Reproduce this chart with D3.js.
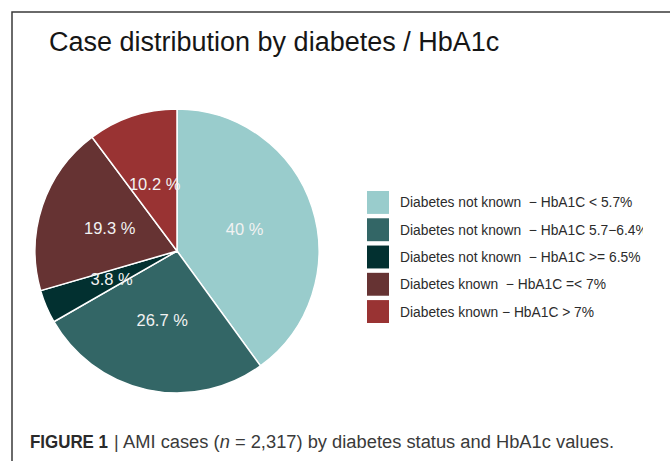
<!DOCTYPE html>
<html>
<head>
<meta charset="utf-8">
<script src="https://cdn.jsdelivr.net/npm/d3@7/dist/d3.min.js"></script>
<style>
  html, body { margin: 0; padding: 0; background: #fff; }
  svg { display: block; }
  text { white-space: pre; }
</style>
</head>
<body>
<svg id="chart" width="670" height="461"></svg>
<script>
// Share of AMI cases per diabetes / HbA1c group (percent)
const categories = [
  "Diabetes not known  \u2212 HbA1C < 5.7%",
  "Diabetes not known  \u2212 HbA1C 5.7\u22126.4%",
  "Diabetes not known  \u2212 HbA1C >= 6.5%",
  "Diabetes known  \u2212 HbA1C =< 7%",
  "Diabetes known \u2212 HbA1C > 7%"
];
const shares = [40, 26.7, 3.8, 19.3, 10.2];
const sliceLabels = ["40 %", "26.7 %", "3.8 %", "19.3 %", "10.2 %"];
const palette = ["#99cccc", "#336666", "#023030", "#663333", "#993333"];

const title = "Case distribution by diabetes / HbA1c";
const captionBold = "FIGURE 1";
const captionRest = ["AMI cases (", "n", " = 2,317) by diabetes status and HbA1c values."];

const svg = d3.select("#chart");
const W = 670, H = 461;
const FONT = "'Liberation Sans', Arial, Helvetica, sans-serif";

// panel frame (top and left edges)
svg.append("path")
  .attr("d", `M12,${H} V12 H${W}`)
  .attr("fill", "none")
  .attr("stroke", "#3a3a3a")
  .attr("stroke-width", 1.5);

// title
svg.append("text")
  .attr("x", 49).attr("y", 51)
  .attr("font-family", FONT)
  .attr("font-size", 27)
  .attr("fill", "#161616")
  .text(title);

// pie
const cx = 177, cy = 251, R = 142;
const color = d3.scaleOrdinal().domain(categories).range(palette);
const pie = d3.pie().sort(null).value(d => d.v);
const rows = categories.map((c, i) => ({ c, v: shares[i], lab: sliceLabels[i] }));
const arcs = pie(rows);
const arc = d3.arc().innerRadius(0).outerRadius(R);
const labelArc = d3.arc().innerRadius(R * 0.5).outerRadius(R * 0.5);

const g = svg.append("g").attr("transform", `translate(${cx},${cy})`);
g.selectAll("path.slice")
  .data(arcs)
  .join("path")
  .attr("class", "slice")
  .attr("d", arc)
  .attr("fill", d => color(d.data.c))
  .attr("stroke", "#ffffff")
  .attr("stroke-width", 1.5);

g.selectAll("text.lab")
  .data(arcs)
  .join("text")
  .attr("class", "lab")
  .attr("transform", d => `translate(${labelArc.centroid(d)})`)
  .attr("text-anchor", "middle")
  .attr("dy", "0.36em")
  .attr("font-family", FONT)
  .attr("font-size", 16.5)
  .attr("fill", "#f2f2f2")
  .text(d => d.data.lab);

// legend (text clipped at the right edge of the legend area)
svg.append("clipPath").attr("id", "legclip")
  .append("rect").attr("x", 360).attr("y", 180).attr("width", 283).attr("height", 160);

const leg = svg.append("g").attr("clip-path", "url(#legclip)");
const ly = d3.scaleBand().domain(categories).range([191, 323]).paddingInner(0.16);
const items = leg.selectAll("g.item")
  .data(categories)
  .join("g")
  .attr("class", "item")
  .attr("transform", d => `translate(367,${ly(d)})`);
items.append("rect")
  .attr("width", 22).attr("height", ly.bandwidth())
  .attr("fill", d => color(d));
items.append("text")
  .attr("x", 33).attr("y", ly.bandwidth() / 2)
  .attr("dy", "0.36em")
  .attr("font-family", FONT)
  .attr("font-size", 13.8)
  .attr("fill", "#2b2b2b")
  .text(d => d);

// caption
svg.append("text")
  .attr("x", 30).attr("y", 448)
  .attr("font-family", FONT)
  .attr("font-size", 17.5)
  .attr("font-weight", "bold")
  .attr("fill", "#2a2a2a")
  .attr("textLength", 78)
  .attr("lengthAdjust", "spacingAndGlyphs")
  .text(captionBold);
svg.append("text")
  .attr("x", 114).attr("y", 448)
  .attr("font-family", FONT)
  .attr("font-size", 18)
  .attr("fill", "#3a3a3a")
  .text("|");
const cap = svg.append("text")
  .attr("x", 123).attr("y", 448)
  .attr("font-family", FONT)
  .attr("font-size", 18)
  .attr("fill", "#3a3a3a")
  .attr("textLength", 491)
  .attr("lengthAdjust", "spacingAndGlyphs");
cap.append("tspan").text(captionRest[0]);
cap.append("tspan").attr("font-style", "italic").text(captionRest[1]);
cap.append("tspan").text(captionRest[2]);
</script>
</body>
</html>
